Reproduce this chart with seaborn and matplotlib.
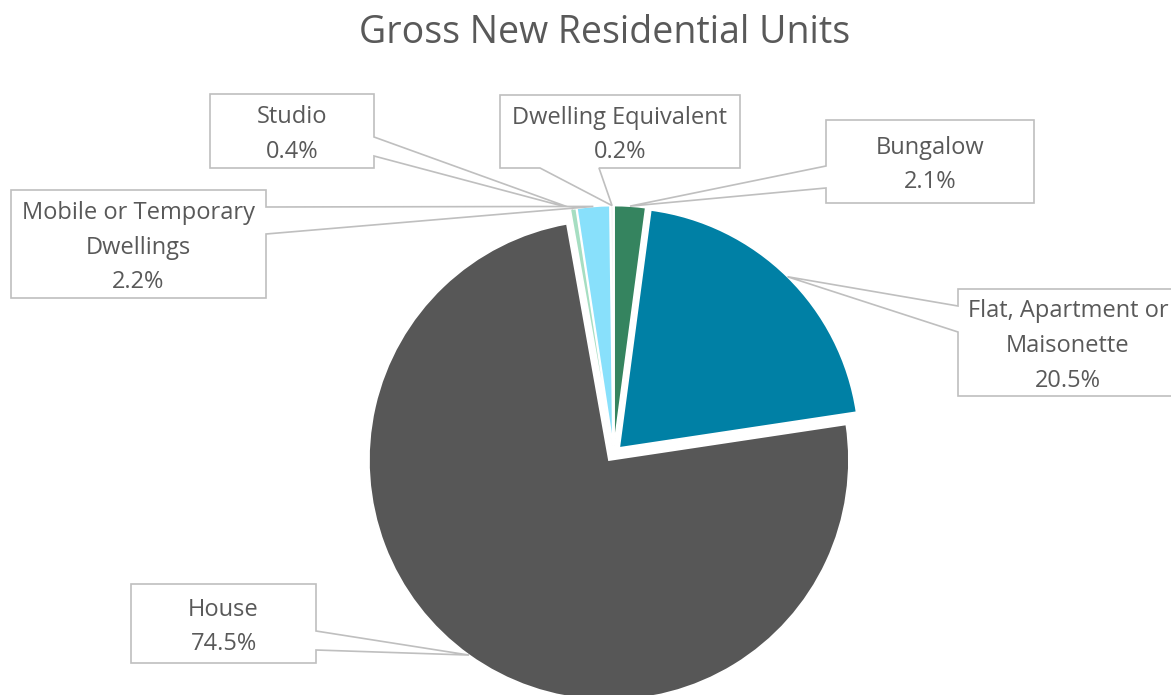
import matplotlib
matplotlib.use("Agg")
import matplotlib.pyplot as plt
from matplotlib.patches import Polygon
import seaborn as sns
import numpy as np

# ---------------------------------------------------------------------------
# DATA
# ---------------------------------------------------------------------------
CATEGORIES = [
    "Bungalow",
    "Flat, Apartment or\nMaisonette",
    "House",
    "Studio",
    "Mobile or Temporary\nDwellings",
    "Dwelling Equivalent",
]
SHARES = [2.1, 20.5, 74.5, 0.4, 2.2, 0.2]
COLORS = ["#35845F", "#0080A5", "#575757", "#A6DEC2", "#88E0FB", "#F4F4F4"]

TITLE = "Gross New Residential Units"

# ---------------------------------------------------------------------------
# LAYOUT (image pixels, y measured from the top)
# box = (left, right, top, bottom), side the pointer leaves from, pointer ends
# ---------------------------------------------------------------------------
W, H = 1171, 695
PIE_CENTER = (613.6, 453.6)
PIE_RADIUS = 240
EXPLODE_PX = 8
BOXES = [
    ((826, 1034, 120, 203), "left", (166, 188)),
    ((958, 1180, 289, 396), "left", (306, 332)),
    ((131, 316, 584, 663), "right", (631, 650)),
    ((210, 374, 94, 168), "right", (137, 156)),
    ((11, 266, 190, 298), "right", (207, 234)),
    ((500, 740, 95, 168), "bottom", (540, 599)),
]

TEXT_COLOR = "#595959"
EDGE_COLOR = "#BFBFBF"

sns.set_style("white")
plt.rcParams["font.family"] = ["Open Sans", "DejaVu Sans"]

fig = plt.figure(figsize=(W / 100, H / 100), dpi=100)
ax = fig.add_axes([0, 0, 1, 1])

# explode is in data units here (radius is in pixels)
wedges, _ = ax.pie(
    SHARES,
    colors=COLORS,
    startangle=90,
    counterclock=False,
    explode=[EXPLODE_PX] * len(SHARES),
    radius=PIE_RADIUS,
    center=(PIE_CENTER[0], H - PIE_CENTER[1]),
    wedgeprops=dict(edgecolor="white", linewidth=1.2),
)
ax.set_xlim(0, W)
ax.set_ylim(0, H)
ax.set_aspect("equal")
ax.axis("off")


def callout(ax, wedge, box, side, ends, label):
    l, r, t, b = box
    mid = np.deg2rad((wedge.theta1 + wedge.theta2) / 2)
    cx, cy = wedge.center
    # anchor on the wedge rim, in image coords
    px = cx + wedge.r * np.cos(mid)
    py = H - (cy + wedge.r * np.sin(mid))
    p1, p2 = ends
    pts = [(l, t), (r, t)]
    if side == "right":
        pts += [(r, p1), (px, py), (r, p2)]
    pts += [(r, b)]
    if side == "bottom":
        pts += [(p2, b), (px, py), (p1, b)]
    pts += [(l, b)]
    if side == "left":
        pts += [(l, p2), (px, py), (l, p1)]
    poly = Polygon([(x, H - y) for x, y in pts], closed=True,
                   facecolor="white", edgecolor=EDGE_COLOR, linewidth=1.2,
                   zorder=5, clip_on=False)
    ax.add_patch(poly)
    tx = (l + r) / 2 if r < W else 1068
    ax.text(tx, H - (t + b) / 2 - 3.5, label,
            ha="center", va="center", fontsize=17, color=TEXT_COLOR,
            linespacing=1.6, zorder=6)


for wedge, (box, side, ends), cat, share in zip(wedges, BOXES, CATEGORIES, SHARES):
    callout(ax, wedge, box, side, ends, f"{cat}\n{share:.1f}%")

fig.text(605 / W, 1 - 33 / H, TITLE, ha="center", va="center",
         fontsize=27, color=TEXT_COLOR)

fig.savefig("out.png", dpi=100)
